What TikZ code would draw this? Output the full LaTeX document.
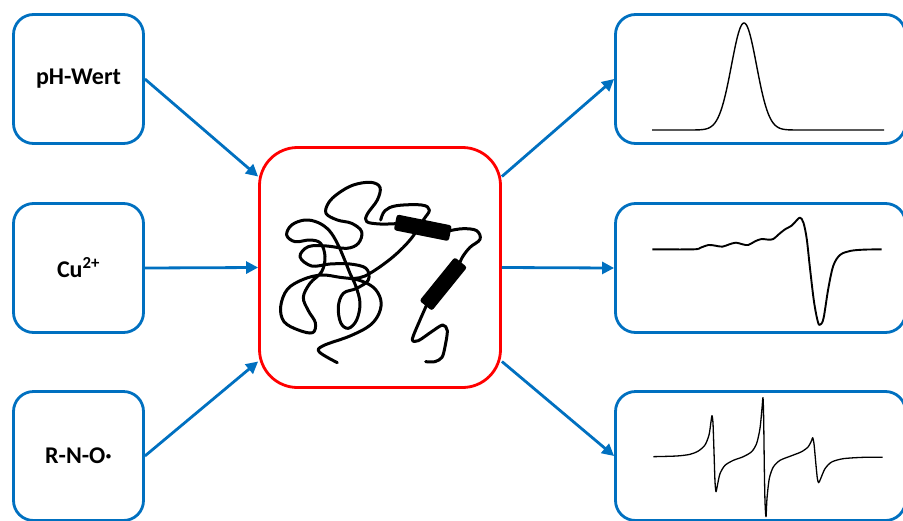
\documentclass[tikz,border=0pt]{standalone}
\usepackage{fontspec}
\setmainfont{Carlito}
\usetikzlibrary{arrows.meta}
\definecolor{boxblue}{HTML}{0070C0}
\definecolor{boxred}{HTML}{FF0000}
\begin{document}
\begin{tikzpicture}[x=1pt,y=-1pt,
  inbox/.style={draw=boxblue, line width=2.8pt, rounded corners=20pt,
    minimum width=130pt, minimum height=129pt, inner sep=0pt,
    font=\fontsize{24}{28}\selectfont\bfseries},
  outbox/.style={draw=boxblue, line width=2.8pt, rounded corners=20pt,
    minimum width=290pt, minimum height=129pt, inner sep=0pt},
  protbox/.style={draw=boxred, line width=2.8pt, rounded corners=38pt,
    minimum width=241pt, minimum height=240pt, inner sep=0pt},
  conn/.style={draw=boxblue, line width=2.8pt, -{Triangle[length=12pt,width=12pt]}},
  spec/.style={draw=black, line width=1.4pt, line join=round},
  chain/.style={draw=black, line width=3pt, line cap=round, line join=round},
  helix/.style={fill=black, rounded corners=2.5pt, minimum width=56pt,
    minimum height=16pt, inner sep=0pt}]
\clip (0,0) rectangle (903,520);

% input boxes
\node[inbox] (ph) at (78.5,79) {pH-Wert};
\node[inbox] (cu) at (78.5,268) {Cu\textsuperscript{2+}};
\node[inbox] (no) at (78.5,456) {R-N-O·};

% protein box
\node[protbox] (prot) at (380,267.5) {};

% spectrum boxes
\node[outbox] (s1) at (760.5,79) {};
\node[outbox] (s2) at (760.5,268) {};
\node[outbox] (s3) at (760.5,456) {};

% connectors
\draw[conn] (ph.east) -- ([yshift=91pt]prot.west);
\draw[conn] (cu.east) -- (prot.west);
\draw[conn] (no.east) -- ([yshift=-94pt]prot.west);
\draw[conn] ([yshift=91pt]prot.east) -- (s1.west);
\draw[conn] (prot.east) -- (s2.west);
\draw[conn] ([yshift=-94pt]prot.east) -- (s3.west);

% protein chain with two helices
\node[helix, rotate=-11.4] (helixA) at (422.8,227.8) {};
\node[helix, rotate=51] (helixB) at (443.3,284) {};
\begin{scope}[shift={(250,140)}, scale=1/3]
  \draw[chain] plot[smooth, tension=0.6] coordinates {
    (262,668) (208,636) (220,617) (300,588) (360,556) (388,518) (392,478)
    (370,442) (325,420) (270,412) (215,405) (160,418) (112,448) (92,500)
    (102,545) (145,570) (188,578) (196,548) (175,512) (160,472) (180,430)
    (215,395) (225,350) (212,310) (180,300) (135,305) (110,285) (125,255)
    (165,240) (205,248) (238,272) (262,310) (282,355) (300,400) (318,440)
    (330,490) (320,540) (295,565) (272,548) (265,500) (280,460) (320,445)
    (355,420) (348,385) (300,372) (240,372) (185,378) (150,350) (175,320)
    (230,318) (290,325) (325,310) (335,275) (305,250) (262,240) (228,220)
    (236,188) (265,160) (310,135) (362,127) (390,142) (382,180) (352,222)
    (350,245) (390,252) (437,251)};
  \draw[chain] plot[smooth, tension=0.6] coordinates {
    (300,415) (345,408) (420,358) (480,300) (520,240) (538,210) (515,195)
    (440,197) (405,212) (392,240)};
  \draw[chain] plot[smooth, tension=0.6] coordinates {
    (600,272) (640,266) (680,272) (690,298) (660,322) (638,350) (628,372)};
  \draw[chain] plot[smooth, tension=0.5] coordinates {
    (530,495) (510,540) (487,598) (505,602) (545,575) (578,555) (592,572)
    (585,620) (576,652) (555,665) (527,665)};
\end{scope}

% spectrum 1: single absorption line
\draw[spec] (652,130) -- (684,130)
  plot[domain=684:804, samples=160, smooth]
    (\x, {130-107*exp(-0.5*((\x-744)/12.5)*((\x-744)/12.5))})
  -- (884,130);

% spectrum 2: broad derivative line with small features
\begin{scope}[shift={(610,195)}, scale=1/3]
  \draw[spec, line width=1.9pt] plot[smooth, tension=0.55] coordinates {
    (127,163) (250,163) (272,158) (295,150) (316,152) (337,155) (358,148)
    (378,143) (398,148) (415,150) (435,139) (455,132) (475,134) (490,132)
    (505,119) (525,103) (545,92) (560,76) (570,68) (580,82) (590,130)
    (600,220) (612,320) (624,382) (632,388) (641,368) (655,280) (670,212)
    (690,180) (720,168) (760,164) (815,163)};
\end{scope}

% spectrum 3: three-line derivative spectrum
\begin{scope}[shift={(610,385)}, scale=1/3]
  \draw[spec, line width=1.3pt] plot[smooth, tension=0.45] coordinates {
    (130,215) (200,213) (240,208) (265,198) (285,180) (297,150) (303,110)
    (306,92) (309,115) (312,200) (315,290) (318,320) (322,302) (330,266)
    (345,241) (370,226) (400,215) (425,200) (440,175) (450,130) (456,70)
    (459,38) (461,100) (463,250) (465,350) (468,395) (471,340) (478,280)
    (490,246) (510,226) (545,212) (575,200) (595,185) (605,166) (608,158)
    (612,176) (617,230) (622,280) (626,293) (632,281) (645,251) (665,231)
    (700,221) (760,217) (818,217)};
\end{scope}
\end{tikzpicture}
\end{document}
